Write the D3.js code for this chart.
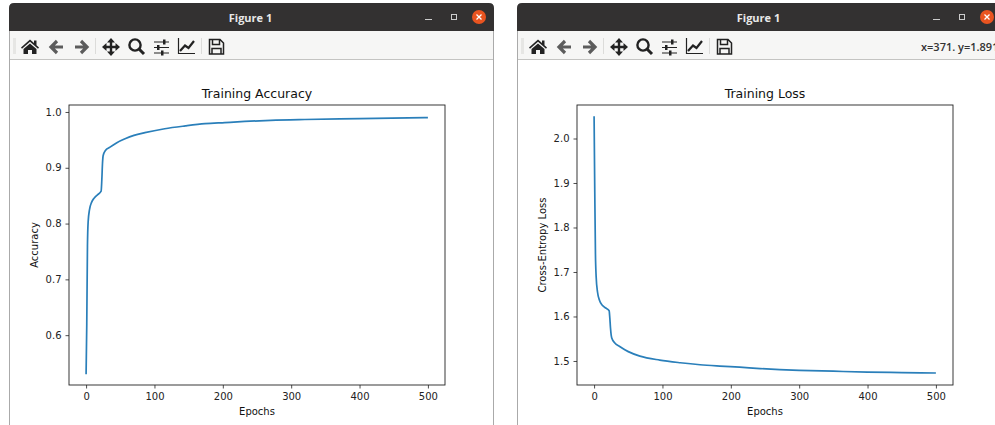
<!DOCTYPE html>
<html>
<head>
<meta charset="utf-8">
<script src="https://cdn.jsdelivr.net/npm/d3@7"></script>
<style>
  html, body { margin: 0; padding: 0; background: #fff; overflow: hidden; }
  svg { display: block; }
  text { font-family: "DejaVu Sans", sans-serif; }
</style>
</head>
<body>
<svg id="chart" width="995" height="425"></svg>
<script>
// values
const accEpochs = [0, 1, 2, 3, 5, 8, 12, 17, 22, 23, 24, 25, 28, 35, 45, 57, 70, 86, 115, 145, 174, 203, 232, 270, 320, 400, 500];
const accValues = [0.53, 0.62, 0.76, 0.803, 0.825, 0.838, 0.846, 0.852, 0.858, 0.878, 0.908, 0.922, 0.9305, 0.937, 0.945, 0.952, 0.958, 0.963, 0.970, 0.975, 0.979, 0.981, 0.983, 0.985, 0.9865, 0.988, 0.990];
const lossEpochs = [0, 1, 2, 3, 5, 8, 12, 17, 22, 23, 24, 25, 26, 30, 38, 50, 67, 96, 126, 155, 184, 213, 243, 300, 350, 400, 450, 500];
const lossValues = [2.05, 1.88, 1.74, 1.69, 1.655, 1.636, 1.625, 1.619, 1.613, 1.597, 1.574, 1.558, 1.551, 1.541, 1.532, 1.521, 1.511, 1.502, 1.496, 1.4915, 1.4885, 1.486, 1.483, 1.479, 1.477, 1.475, 1.474, 1.473];
const xTicks = [0, 100, 200, 300, 400, 500];
const accTicks = [0.6, 0.7, 0.8, 0.9, 1.0];
const lossTicks = [1.5, 1.6, 1.7, 1.8, 1.9, 2.0];

const svg = d3.select('#chart');

// window frame, titlebar and toolbar of the plot window
function drawWindow(left, readout) {
  const width = 485;
  const g = svg.append('g').attr('transform', `translate(${left},0)`);
  const title = `M0,31 V8 Q0,3 5,3 H${width - 5} Q${width},3 ${width},8 V31 Z`;
  g.append('rect').attr('x', 0).attr('y', 31).attr('width', width).attr('height', 29).attr('fill', '#f6f6f5');
  g.append('line').attr('x1', 0).attr('x2', width).attr('y1', 59.5).attr('y2', 59.5).attr('stroke', '#c4c4c2');
  g.append('path').attr('d', title).attr('fill', '#333131');
  g.append('text').attr('x', width / 2 - 1).attr('y', 21.5).attr('text-anchor', 'middle')
    .attr('fill', '#e8e8e8').attr('font-size', 11).attr('font-weight', 'bold')
    .style('font-family', '"Open Sans", sans-serif').text('Figure 1');
  g.append('line').attr('x1', 0.5).attr('x2', 0.5).attr('y1', 31).attr('y2', 425).attr('stroke', '#aaa');
  g.append('line').attr('x1', width - 0.5).attr('x2', width - 0.5).attr('y1', 31).attr('y2', 425).attr('stroke', '#aaa');

  // window buttons
  g.append('line').attr('x1', width - 69).attr('x2', width - 62).attr('y1', 19.5).attr('y2', 19.5).attr('stroke', '#ccc');
  g.append('rect').attr('x', width - 42.5).attr('y', 14.5).attr('width', 5).attr('height', 5)
    .attr('fill', 'none').attr('stroke', '#ccc');
  g.append('circle').attr('cx', width - 15).attr('cy', 17).attr('r', 7).attr('fill', '#e95420');
  g.append('path').attr('d', `M${width - 17.5},14.5 L${width - 12.5},19.5 M${width - 12.5},14.5 L${width - 17.5},19.5`)
    .attr('stroke', '#fff').attr('stroke-width', 1.3);

  // toolbar handle
  g.append('rect').attr('x', 4).attr('y', 38).attr('width', 3).attr('height', 16).attr('fill', '#e6e6e4');
  [86, 192].forEach(x => g.append('line').attr('x1', x + 0.5).attr('x2', x + 0.5).attr('y1', 38).attr('y2', 54).attr('stroke', '#dcdcda'));

  const ink = '#222';
  const icons = g.append('g').attr('transform', 'translate(-9,0)');
  // home
  icons.append('path').attr('fill', ink).attr('d', 'M30,39.5 L34,43 V40.5 H36.5 V45.2 L39,47.5 L38,48.7 L30,41.8 L22,48.7 L21,47.5 Z M23.5,49 L30,43.4 L36.5,49 V54 H32 V50 H28 V54 H23.5 Z');
  // back and forward
  icons.append('path').attr('fill', 'none').attr('stroke', '#5c5c5c').attr('stroke-width', 3.2).attr('d', 'M63,47 H51 M57,41 L51,47 L57,53');
  icons.append('path').attr('fill', 'none').attr('stroke', '#5c5c5c').attr('stroke-width', 3.2).attr('d', 'M75,47 H87 M81,41 L87,47 L81,53');
  // pan
  icons.append('path').attr('fill', 'none').attr('stroke', ink).attr('stroke-width', 2.4).attr('d', 'M111,40 V54 M104,47 H118');
  icons.append('path').attr('fill', ink).attr('d', 'M111,38 L115,42.5 H107 Z M111,56 L115,51.5 H107 Z M102,47 L106.5,43 V51 Z M120,47 L115.5,43 V51 Z');
  // zoom
  icons.append('circle').attr('cx', 135).attr('cy', 45).attr('r', 5.6).attr('fill', 'none').attr('stroke', ink).attr('stroke-width', 2.4);
  icons.append('line').attr('x1', 139).attr('y1', 49).attr('x2', 144).attr('y2', 54).attr('stroke', ink).attr('stroke-width', 3);
  // subplots
  icons.append('path').attr('fill', 'none').attr('stroke', ink).attr('stroke-width', 1.2).attr('d', 'M154,42 H169 M154,47.5 H169 M154,53 H169');
  icons.append('path').attr('fill', ink).attr('d', 'M163,39.5 h2.5 v5 h-2.5 Z M157,45 h2.5 v5 h-2.5 Z M161,50.5 h2.5 v5 h-2.5 Z');
  // edit curve
  icons.append('path').attr('fill', 'none').attr('stroke', ink).attr('stroke-width', 1.2).attr('d', 'M178.5,38 V53.5 H195');
  icons.append('path').attr('fill', 'none').attr('stroke', ink).attr('stroke-width', 2.2).attr('d', 'M180,51 L185,45.5 L188.5,48 L194,41');
  // save
  icons.append('path').attr('fill', 'none').attr('stroke', ink).attr('stroke-width', 1.5).attr('d', 'M209.5,39.5 H220 L223.5,43 V54 H209.5 Z M212.5,39.5 V44.5 H219.5 V39.5 M212,54 V48.5 H221 V54');

  if (readout) {
    g.append('text').attr('x', 404).attr('y', 51).attr('fill', '#333').attr('font-size', 11)
      .style('font-family', '"Open Sans", sans-serif').attr('font-weight', 600).text(readout);
  }
}

function drawPlot(opts) {
  const box = { left: opts.left, right: opts.left + 376, top: 105, bottom: 385 };
  const x = d3.scaleLinear().domain([-25, 525]).range([box.left, box.right]);
  const y = d3.scaleLinear().domain(opts.yDomain).range([box.bottom, box.top]);
  const g = svg.append('g');

  const line = d3.line()
    .x(d => x(d[0]))
    .y(d => y(d[1]))
    .curve(d3.curveMonotoneX);
  g.append('path')
    .datum(d3.zip(opts.epochs, opts.values))
    .attr('fill', 'none')
    .attr('stroke', '#2a7fba')
    .attr('stroke-width', 1.7)
    .attr('d', line);

  const xAxis = g.append('g').attr('transform', `translate(0,${box.bottom})`)
    .call(d3.axisBottom(x).tickValues(xTicks).tickSizeOuter(0).tickSize(3.5).tickPadding(4).tickFormat(d3.format('d')));
  const yAxis = g.append('g').attr('transform', `translate(${box.left},0)`)
    .call(d3.axisLeft(y).tickValues(opts.ticks).tickSizeOuter(0).tickSize(3.5).tickPadding(4).tickFormat(d3.format('.1f')));
  [xAxis, yAxis].forEach(a => {
    a.select('.domain').remove();
    a.selectAll('text').attr('font-size', 10).attr('fill', '#222').style('font-family', '"DejaVu Sans", sans-serif');
    a.selectAll('line').attr('stroke', '#222').attr('stroke-width', 0.8);
  });

  g.append('rect')
    .attr('x', box.left).attr('y', box.top)
    .attr('width', box.right - box.left).attr('height', box.bottom - box.top)
    .attr('fill', 'none').attr('stroke', '#222').attr('stroke-width', 0.9);

  g.append('text').attr('x', (box.left + box.right) / 2).attr('y', 98)
    .attr('text-anchor', 'middle').attr('font-size', 12.5).attr('fill', '#111').text(opts.title);
  g.append('text').attr('x', (box.left + box.right) / 2).attr('y', 415)
    .attr('text-anchor', 'middle').attr('font-size', 10).attr('fill', '#111').text('Epochs');
  const ly = (box.top + box.bottom) / 2;
  g.append('text').attr('transform', `translate(${opts.labelX},${ly}) rotate(-90)`)
    .attr('text-anchor', 'middle').attr('font-size', 10).attr('fill', '#111').text(opts.yLabel);
}

drawWindow(9, null);
drawWindow(517, 'x=371. y=1.891');

drawPlot({
  left: 69, title: 'Training Accuracy', yLabel: 'Accuracy', labelX: 38,
  epochs: accEpochs, values: accValues, ticks: accTicks, yDomain: [0.5107, 1.0125]
});
drawPlot({
  left: 577, title: 'Training Loss', yLabel: 'Cross-Entropy Loss', labelX: 546,
  epochs: lossEpochs, values: lossValues, ticks: lossTicks, yDomain: [1.446, 2.0753]
});
</script>
</body>
</html>
